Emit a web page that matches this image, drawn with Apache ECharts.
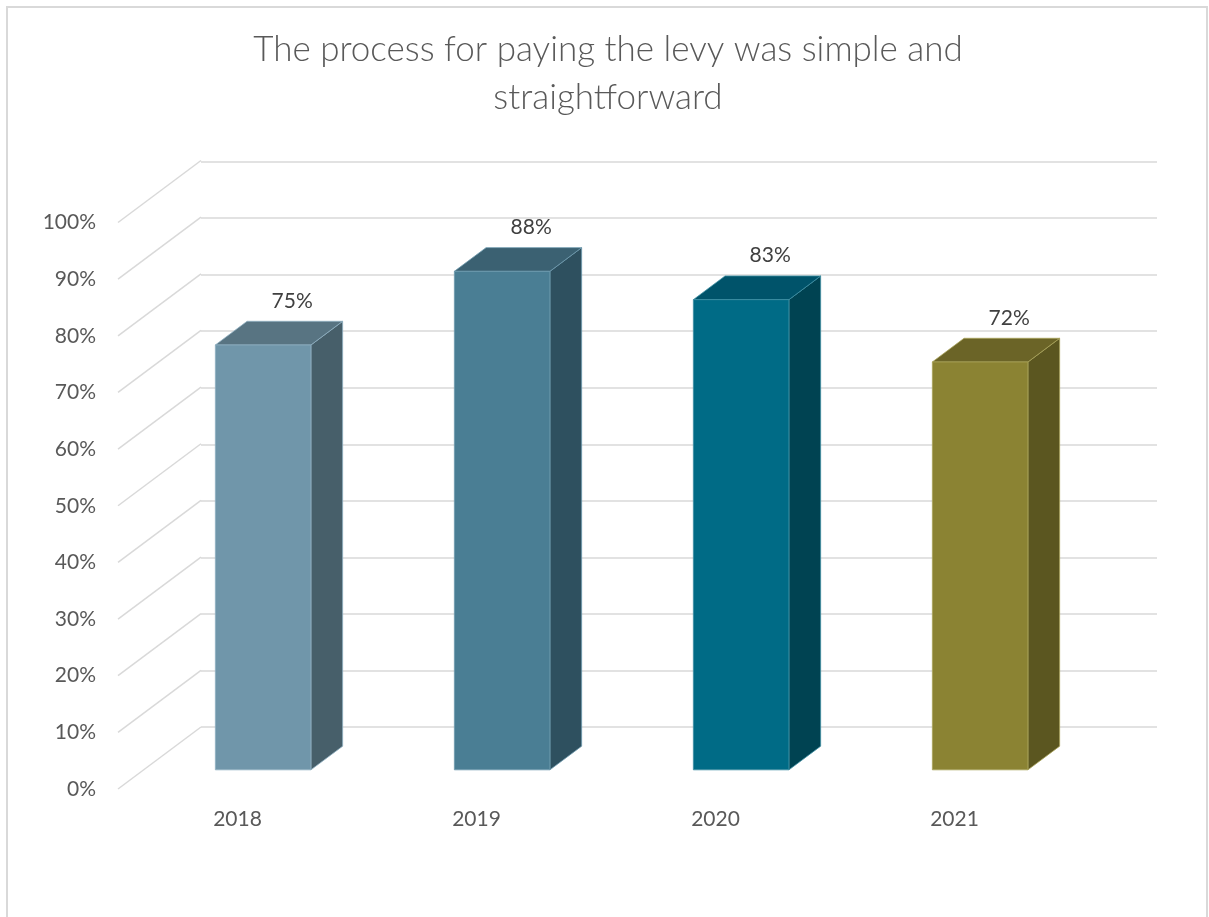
<!DOCTYPE html>
<html>
<head>
<meta charset="utf-8">
<title>Levy payment process</title>
<script src="https://cdn.jsdelivr.net/npm/echarts@6/dist/echarts.min.js"></script>
<style>
  html, body { margin: 0; padding: 0; background: #ffffff; }
  #chart { width: 1209px; height: 917px; }
</style>
</head>
<body>
<div id="chart"></div>
<script>
// ---- data ----
const titleLines = ['The process for paying the levy was simple and', 'straightforward'];
const categories = ['2018', '2019', '2020', '2021'];
const values = [0.75, 0.88, 0.83, 0.72];
const tickValues = [0, 0.1, 0.2, 0.3, 0.4, 0.5, 0.6, 0.7, 0.8, 0.9, 1.0];

// face colours per bar: [front, side, top]
const barFaces = [
  ['#7096aa', '#475f6a', '#587482'],
  ['#4a7e94', '#2e505f', '#3b6172'],
  ['#006b86', '#004352', '#00536a'],
  ['#8b8333', '#5b5620', '#6b6427']
];
const edgeColors = ['#8fb0c2', '#6f9aae', '#3f8fa3', '#aaa35a'];

// ---- layout of the 3D box ----
const FRONT = { left: 118, top: 222.5, width: 956, height: 566.5 };
const BACK = { left: 201, top: 161.5, width: 956, height: 565.5 };
const DX = BACK.left - FRONT.left;                                   // depth shift x
const DY = (BACK.top + BACK.height) - (FRONT.top + FRONT.height);   // depth shift y
const BAR_DEPTH = 0.382;              // share of the floor depth taken by a bar
const BAR_FRONT = 0.5 - BAR_DEPTH / 2;
const GAP_RATIO = 2.5;                // slot width / bar width

const gridColor = '#d9d9d9';
const textColor = '#595959';
const FONT = 'Lato, "Open Sans", "Noto Sans", sans-serif';

const pct = v => Math.round(v * 100) + '%';

const chart = echarts.init(document.getElementById('chart'), null, { renderer: 'canvas' });

function renderDiagonal(params, api) {
  const t = api.value(0);
  const y = api.coord([0, t])[1];
  const x = params.coordSys.x;
  return {
    type: 'line',
    shape: { x1: x, y1: y, x2: x + DX, y2: y + DY },
    style: { stroke: gridColor, lineWidth: 1.5 },
    silent: true
  };
}

function renderBar(params, api) {
  const i = api.value(0);
  const v = api.value(1);
  const base = api.coord([i, 0]);
  const topPt = api.coord([i, v]);
  const h = base[1] - topPt[1];
  const slot = api.size([1, 0])[0];
  const w = slot / GAP_RATIO;
  const x0 = base[0] + BAR_FRONT * DX - w / 2;
  const yb = base[1] + BAR_FRONT * DY;
  const yt = yb - h;
  const ddx = BAR_DEPTH * DX;
  const ddy = BAR_DEPTH * DY;
  const faces = barFaces[params.dataIndex];
  const edge = edgeColors[params.dataIndex];
  const edgeStyle = { stroke: edge, lineWidth: 0.8, lineJoin: 'round' };
  return {
    type: 'group',
    children: [
      {
        type: 'polygon',
        shape: { points: [[x0 + w, yt], [x0 + w + ddx, yt + ddy], [x0 + w + ddx, yb + ddy], [x0 + w, yb]] },
        style: Object.assign({ fill: faces[1] }, edgeStyle)
      },
      {
        type: 'polygon',
        shape: { points: [[x0, yt], [x0 + ddx, yt + ddy], [x0 + w + ddx, yt + ddy], [x0 + w, yt]] },
        style: Object.assign({ fill: faces[2] }, edgeStyle)
      },
      {
        type: 'rect',
        shape: { x: x0, y: yt, width: w, height: h },
        style: Object.assign({ fill: faces[0] }, edgeStyle)
      },
      {
        type: 'text',
        x: x0 + w / 2 + 29,
        y: yt - 44,
        style: {
          text: pct(v),
          fill: '#404040',
          font: '21px ' + FONT,
          align: 'center',
          verticalAlign: 'middle'
        }
      }
    ]
  };
}

const option = {
  backgroundColor: '#ffffff',
  animation: false,
  graphic: [
    {
      type: 'rect',
      shape: { x: 7, y: 7, width: 1200, height: 930 },
      style: { fill: 'none', stroke: gridColor, lineWidth: 2 },
      silent: true,
      z: -10
    },
    {
      type: 'text',
      x: 608,
      y: 74,
      style: {
        text: titleLines.join('\n'),
        fill: textColor,
        font: '300 35px ' + FONT,
        lineHeight: 48,
        align: 'center',
        verticalAlign: 'middle'
      }
    }
  ],
  grid: [
    { left: FRONT.left, top: FRONT.top, width: FRONT.width, height: FRONT.height },
    { left: BACK.left, top: BACK.top, width: BACK.width, height: BACK.height }
  ],
  xAxis: [
    {
      gridIndex: 0,
      type: 'category',
      data: categories,
      axisLine: { show: false },
      axisTick: { show: false },
      axisLabel: { color: textColor, fontSize: 21, fontFamily: FONT, margin: 20 }
    },
    {
      gridIndex: 1,
      type: 'category',
      data: categories,
      show: false
    }
  ],
  yAxis: [
    {
      gridIndex: 0,
      type: 'value',
      min: 0,
      max: 1,
      interval: 0.1,
      axisLine: { show: false },
      axisTick: { show: false },
      splitLine: { show: false },
      axisLabel: { color: textColor, fontSize: 21, fontFamily: FONT, margin: 22, formatter: pct }
    },
    {
      gridIndex: 1,
      type: 'value',
      min: 0,
      max: 1,
      interval: 0.1,
      axisLine: { show: false },
      axisTick: { show: false },
      axisLabel: { show: false },
      splitLine: { show: true, lineStyle: { color: gridColor, width: 1.5 } }
    }
  ],
  series: [
    {
      type: 'custom',
      name: 'side wall',
      xAxisIndex: 0,
      yAxisIndex: 0,
      data: tickValues.map(t => [t]),
      renderItem: renderDiagonal,
      silent: true,
      z: 1
    },
    {
      type: 'custom',
      name: 'bars',
      xAxisIndex: 0,
      yAxisIndex: 0,
      data: values.map((v, i) => [i, v]),
      renderItem: renderBar,
      z: 5
    }
  ]
};

chart.setOption(option);
</script>
</body>
</html>
